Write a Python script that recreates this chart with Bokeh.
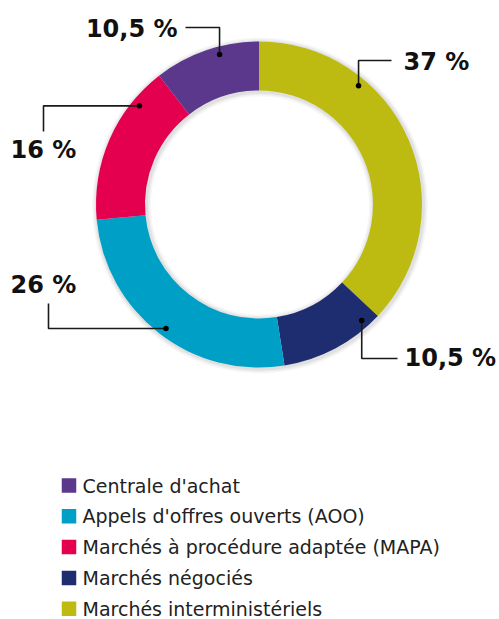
import numpy as np
from bokeh.plotting import figure
from bokeh.models import Range1d, ColumnDataSource
from bokeh.core.properties import value
from bokeh.embed import file_html
from bokeh.resources import INLINE

# ---- data ----
categories = ["Marchés interministériels", "Marchés négociés",
              "Appels d'offres ouverts (AOO)", "Marchés à procédure adaptée (MAPA)",
              "Centrale d'achat"]
shares = [37, 10.5, 26, 16, 10.5]
labels = ["37 %", "10,5 %", "26 %", "16 %", "10,5 %"]
colors = ["#BDBB12", "#1E2C70", "#00A0C6", "#E4004F", "#5B388C"]
legend_order = ["Centrale d'achat", "Appels d'offres ouverts (AOO)",
                "Marchés à procédure adaptée (MAPA)", "Marchés négociés",
                "Marchés interministériels"]

W, H = 499, 619
CX, CY = 258.5, 204  # donut centre in figure pixels from top-left
R_OUT, R_IN = 163, 114

p = figure(width=W, height=H, output_backend="svg", toolbar_location=None,
           x_range=Range1d(-CX, W - CX), y_range=Range1d(-(H - CY), CY),
           min_border=0)
p.axis.visible = False
p.grid.visible = False
p.outline_line_color = None
p.background_fill_color = "white"

# angles: start at top, clockwise
vals = np.array(shares, dtype=float)
frac = vals / vals.sum()
cum = np.concatenate([[0], np.cumsum(frac)])
start = np.pi / 2 - cum[:-1] * 2 * np.pi
end = np.pi / 2 - cum[1:] * 2 * np.pi

# soft shadow
for dr, a in [(5, 0.03), (3.5, 0.04), (2, 0.05)]:
    p.annulus(x=1, y=-1, inner_radius=R_IN - dr, outer_radius=R_OUT + dr,
              fill_color="black", fill_alpha=a, line_color=None)

src = ColumnDataSource(dict(start=start, end=end, color=colors, cat=categories))
p.annular_wedge(x=0, y=0, inner_radius=R_IN, outer_radius=R_OUT,
                start_angle="start", end_angle="end", direction="clock",
                fill_color="color", line_color=None, source=src)

# ---- leader lines and labels (layout) ----
dot_pos = [0.30, 0.14, 0.49, 0.78, 0.61]  # position within slice
dot_r = 155
# mode 'v': vertical to y=a then horizontal to x=b
# mode 'h': horizontal to x=a then vertical to y=b
leaders = [("v", 144, 132.5), ("v", -154, 138.5), ("h", -210.5, -99),
           ("h", -215.5, 73), ("v", 177, -73.5)]
label_xy = [(144.5, 143, "left"), (145.5, -153, "left"), (-248.5, -80, "left"),
            (-248.5, 55, "left"), (-81.5, 176, "right")]

dx, dy = [], []
for i in range(len(shares)):
    ang = start[i] + (end[i] - start[i]) * dot_pos[i]
    x0, y0 = dot_r * np.cos(ang), dot_r * np.sin(ang)
    dx.append(x0); dy.append(y0)
    mode, a, b = leaders[i]
    if mode == "v":
        xs, ys = [x0, x0, b], [y0, a, a]
    else:
        xs, ys = [x0, a, a], [y0, y0, b]
    p.line(xs, ys, line_color="#1a1a1a", line_width=1.6)

p.scatter(dx, dy, size=5.5, marker="circle", fill_color="black", line_color=None)

for i, (lx, ly, al) in enumerate(label_xy):
    p.text(x=[lx], y=[ly], text=[labels[i]], text_font=value("DejaVu Sans"),
           text_font_style="bold", text_font_size="24px", text_color="#111111",
           text_align=al, text_baseline="middle")

# ---- legend ----
leg_y = [-281 - 30.8 * k for k in range(len(legend_order))]
leg_col = [colors[categories.index(c)] for c in legend_order]
p.rect(x=[-190] * 5, y=leg_y, width=14.5, height=14.5, fill_color=leg_col,
       line_color=None)
p.text(x=[-176.5] * 5, y=leg_y, text=legend_order, text_font=value("DejaVu Sans"),
       text_font_size="19px", text_color="#222222", text_baseline="middle",
       text_align="left")

open("out.html", "w").write(file_html(p, INLINE))
